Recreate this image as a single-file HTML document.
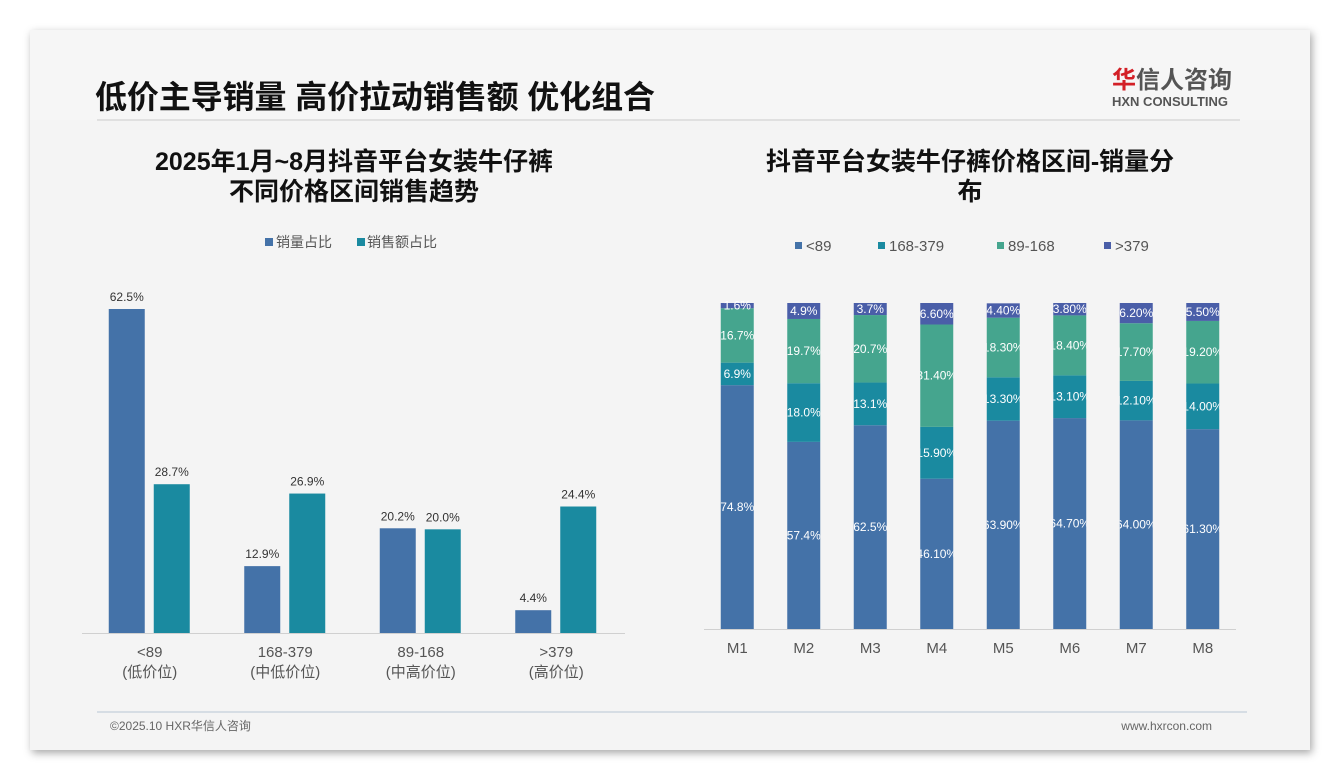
<!DOCTYPE html>
<html><head><meta charset="utf-8">
<style>
body{margin:0;width:1340px;height:780px;background:#ffffff;font-family:"Liberation Sans","Noto Sans CJK SC",sans-serif;overflow:hidden}
#slide{position:absolute;left:30px;top:30px;width:1280px;height:720px;background:#f4f4f4;box-shadow:2px 3px 8px rgba(0,0,0,0.35)}
svg text{font-family:"Liberation Sans","Noto Sans CJK SC",sans-serif}
</style></head><body>
<div id="slide"></div>
<svg width="1340" height="780" style="position:absolute;left:0;top:0">
<rect x="30" y="30" width="1280" height="90" fill="#f6f6f6"/>
<text x="95" y="108" font-size="32" font-weight="bold" fill="#111" textLength="560">低价主导销量 高价拉动销售额 优化组合</text>
<line x1="97" y1="120" x2="1240" y2="120" stroke="#e0e0e0" stroke-width="2"/>
<g>
<text x="1112" y="88" font-size="24" font-weight="bold" fill="#d32027">华</text>
<text x="1136" y="88" font-size="24" font-weight="bold" fill="#555">信人咨询</text>
<text x="1112" y="106" font-size="13" font-weight="bold" fill="#555">HXN CONSULTING</text>
</g>
<text x="354" y="170" font-size="25" font-weight="bold" fill="#111" text-anchor="middle">2025年1月~8月抖音平台女装牛仔裤</text>
<text x="354" y="200" font-size="25" font-weight="bold" fill="#111" text-anchor="middle">不同价格区间销售趋势</text>
<text x="970" y="170" font-size="25" font-weight="bold" fill="#111" text-anchor="middle">抖音平台女装牛仔裤价格区间-销量分</text>
<text x="970" y="200" font-size="25" font-weight="bold" fill="#111" text-anchor="middle">布</text>
<g id="left"></g>
<g id="right"></g>
<line x1="97" y1="712" x2="1247" y2="712" stroke="#b9c6d4" stroke-width="1"/>
<text x="110" y="730" font-size="12" fill="#666">©2025.10 HXR华信人咨询</text>
<text x="1212" y="730" font-size="12" fill="#666" text-anchor="end">www.hxrcon.com</text>
</svg>
<script>
const leftCats=["<89","168-379","89-168",">379"];
const leftSub=["(低价位)","(中低价位)","(中高价位)","(高价位)"];
const volShare=[62.5,12.9,20.2,4.4];
const salesShare=[28.7,26.9,20.0,24.4];
const months=["M1","M2","M3","M4","M5","M6","M7","M8"];
const sLow=[74.8,57.4,62.5,46.1,63.9,64.7,64.0,61.3];
const sMidLow=[6.9,18.0,13.1,15.9,13.3,13.1,12.1,14.0];
const sMidHigh=[16.7,19.7,20.7,31.4,18.3,18.4,17.7,19.2];
const sHigh=[1.6,4.9,3.7,6.6,4.4,3.8,6.2,5.5];
const lowLbl=["74.8%","57.4%","62.5%","46.10%","63.90%","64.70%","64.00%","61.30%"];
const midLowLbl=["6.9%","18.0%","13.1%","15.90%","13.30%","13.10%","12.10%","14.00%"];
const midHighLbl=["16.7%","19.7%","20.7%","31.40%","18.30%","18.40%","17.70%","19.20%"];
const highLbl=["1.6%","4.9%","3.7%","6.60%","4.40%","3.80%","6.20%","5.50%"];
const rightSeries=["<89","168-379","89-168",">379"];
const NS="http://www.w3.org/2000/svg";
function mk(p,t,a,txt){const e=document.createElementNS(NS,t);for(const k in a)e.setAttribute(k,a[k]);if(txt!=null)e.textContent=txt;p.appendChild(e);return e;}
const L=document.getElementById('left');
const lBase=633,lScale=324/62.5,lX0=82,lStep=135.5;
const yL=v=>lBase-v*lScale;
const gx=i=>lX0+lStep*(i+0.5);
let lg=mk(L,'rect',{x:265,y:238,width:8,height:8,fill:'#4472a8'});

let lt=mk(L,'text',{x:276,y:247,'font-size':14,fill:'#555'},'销量占比');

lg=mk(L,'rect',{x:357,y:238,width:8,height:8,fill:'#1a8aa0'});

lt=mk(L,'text',{x:367,y:247,'font-size':14,fill:'#555'},'销售额占比');

leftCats.forEach((c,i)=>{
  const cx=gx(i);
  let b=mk(L,'rect',{x:cx-41,y:yL(volShare[i]),width:36,height:volShare[i]*lScale,fill:'#4472a8'});
  
  let t=mk(L,'text',{x:cx-23,y:yL(volShare[i])-8,'font-size':12,fill:'#333','text-anchor':'middle'},volShare[i].toFixed(1)+'%');
  
  b=mk(L,'rect',{x:cx+4,y:yL(salesShare[i]),width:36,height:salesShare[i]*lScale,fill:'#1a8aa0'});
  
  t=mk(L,'text',{x:cx+22,y:yL(salesShare[i])-8,'font-size':12,fill:'#333','text-anchor':'middle'},salesShare[i].toFixed(1)+'%');
  
  t=mk(L,'text',{x:cx,y:657,'font-size':15,fill:'#555','text-anchor':'middle'},c);
  
  t=mk(L,'text',{x:cx,y:677,'font-size':15,fill:'#555','text-anchor':'middle'},leftSub[i]);
  
});
let ax=mk(L,'line',{x1:82,y1:633.5,x2:625,y2:633.5,stroke:'#d0d0d0'});

const R=document.getElementById('right');
const rBase=629,rH=326,rX0=704,rStep=66.5,bw=33;
const yR=v=>rBase-v/100*rH;
const colors=['#4472a8','#1a8aa0','#45a58e','#4a5ea8'];
const legX=[795,878,997,1104];
rightSeries.forEach((s,k)=>{
  let r=mk(R,'rect',{x:legX[k],y:242,width:7,height:7,fill:colors[k]});
  
  let t=mk(R,'text',{x:legX[k]+11,y:251,'font-size':15,fill:'#555'},s);
  
});
const defs=mk(R,'defs',{});
const series=[sLow,sMidLow,sMidHigh,sHigh];
const lbls=[lowLbl,midLowLbl,midHighLbl,highLbl];
months.forEach((m,i)=>{
  const cx=rX0+rStep*(i+0.5);
  const cp=mk(defs,'clipPath',{id:'cp'+i});
  mk(cp,'rect',{x:cx-bw/2,y:290,width:bw,height:340});
  let cum=0;
  series.forEach((arr,k)=>{
    const v=arr[i];
    let r=mk(R,'rect',{x:cx-bw/2,y:yR(cum+v),width:bw,height:v/100*rH,fill:colors[k]});
    
    let t=mk(R,'text',{x:cx,y:yR(cum+v/2)+4,'font-size':12,fill:'#fff','text-anchor':'middle','clip-path':'url(#cp'+i+')'},lbls[k][i]);
    
    cum+=v;
  });
  let t=mk(R,'text',{x:cx,y:653,'font-size':15,fill:'#555','text-anchor':'middle'},m);
  
});
ax=mk(R,'line',{x1:704,y1:629.5,x2:1236,y2:629.5,stroke:'#d0d0d0'});

</script>
</body></html>
